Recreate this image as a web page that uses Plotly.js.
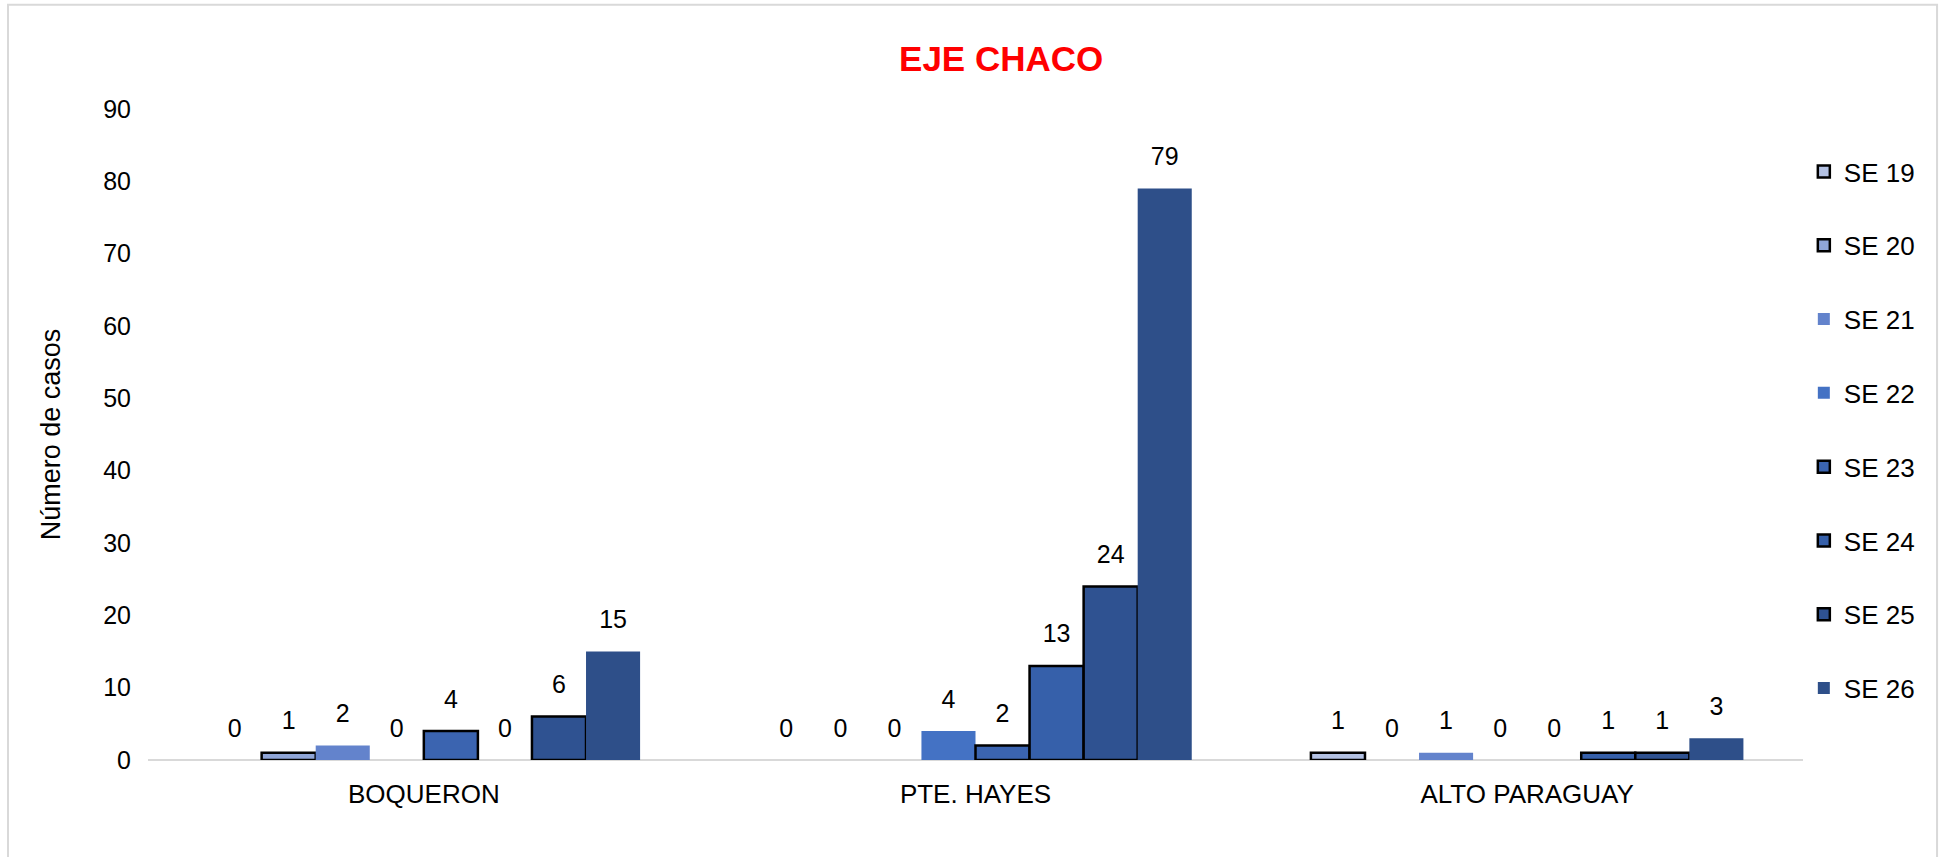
<!DOCTYPE html>
<html>
<head>
<meta charset="utf-8">
<script src="https://cdn.plot.ly/plotly-3.0.1.min.js"></script>
<style>html,body{margin:0;padding:0;background:#fff;}#chart{width:1944px;height:857px;}</style>
</head>
<body>
<div id="chart"></div>
<script>
const categories = ["BOQUERON", "PTE. HAYES", "ALTO PARAGUAY"];
const seriesNames = ["SE 19", "SE 20", "SE 21", "SE 22", "SE 23", "SE 24", "SE 25", "SE 26"];
const se19 = [0, 0, 1];
const se20 = [1, 0, 0];
const se21 = [2, 0, 1];
const se22 = [0, 4, 0];
const se23 = [4, 2, 0];
const se24 = [0, 13, 1];
const se25 = [6, 24, 1];
const se26 = [15, 79, 3];
const seriesValues = [se19, se20, se21, se22, se23, se24, se25, se26];
const seriesColors = ["#b4c2e4", "#8fa5d7", "#6383cc", "#4472c4", "#3b64b0", "#3660aa", "#2f5291", "#2e4f89"];
const seriesOutlined = [true, true, false, false, true, true, true, false];
const yTicks = [0, 10, 20, 30, 40, 50, 60, 70, 80, 90];

const FONT = "Liberation Sans, Arial, sans-serif";
const GAP = 0.216;
const OUTLINE = 2.5;

const traces = [];
seriesNames.forEach((name, i) => {
  traces.push({
    type: "bar",
    name: name,
    x: categories,
    // zero-height bars draw nothing (no outline stroke on the baseline)
    y: seriesValues[i].map(v => v === 0 ? null : v),
    legendgroup: "g" + i,
    marker: {
      color: seriesColors[i],
      line: {color: "#000000", width: seriesOutlined[i] ? OUTLINE : 0}
    },
    hoverinfo: "x+y+name"
  });
});
seriesNames.forEach((name, i) => {
  traces.push({
    type: "scatter",
    mode: "markers+text",
    x: categories,
    y: seriesValues[i],
    text: seriesValues[i].map(String),
    textposition: "top center",
    textfont: {family: FONT, size: 25, color: "#000000"},
    marker: {size: 26, color: "rgba(0,0,0,0)"},
    showlegend: false,
    hoverinfo: "skip",
    cliponaxis: false
  });
});

const layout = {
  width: 1944,
  height: 857,
  paper_bgcolor: "#ffffff",
  plot_bgcolor: "#ffffff",
  margin: {l: 148, r: 141, t: 109, b: 97},
  barmode: "group",
  bargap: GAP,
  bargroupgap: 0,
  scattermode: "group",
  scattergap: GAP,
  title: {
    text: "<b>EJE CHACO</b>",
    font: {family: FONT, size: 35, color: "#ff0000"},
    x: 0.515,
    xanchor: "center",
    y: 0.932,
    yanchor: "middle"
  },
  xaxis: {
    type: "category",
    showgrid: false,
    zeroline: false,
    showline: false,
    ticks: "",
    tickfont: {family: FONT, size: 26, color: "#000000"},
    ticklabelstandoff: 16
  },
  yaxis: {
    range: [0, 90],
    tickvals: yTicks,
    ticktext: yTicks.map(String),
    showgrid: false,
    zeroline: true,
    zerolinecolor: "#d9d9d9",
    zerolinewidth: 2,
    showline: false,
    ticks: "",
    tickfont: {family: FONT, size: 25, color: "#000000"},
    ticklabelstandoff: 16,
    title: {
      text: "Número de casos",
      font: {family: FONT, size: 27, color: "#000000"},
      standoff: 34
    }
  },
  legend: {
    x: 1.0005,
    xanchor: "left",
    y: 0.94,
    yanchor: "top",
    traceorder: "grouped",
    tracegroupgap: 37,
    itemwidth: 30,
    font: {family: FONT, size: 26, color: "#000000"},
    bgcolor: "rgba(0,0,0,0)"
  },
  shapes: [{
    type: "rect",
    xref: "paper",
    yref: "paper",
    x0: -0.0846,
    x1: 1.081,
    y0: -0.3,
    y1: 1.16,
    line: {color: "#d9d9d9", width: 2},
    fillcolor: "rgba(0,0,0,0)",
    layer: "below"
  }],
  showlegend: true
};

Plotly.newPlot("chart", traces, layout, {displayModeBar: false, responsive: false});
</script>
</body>
</html>
